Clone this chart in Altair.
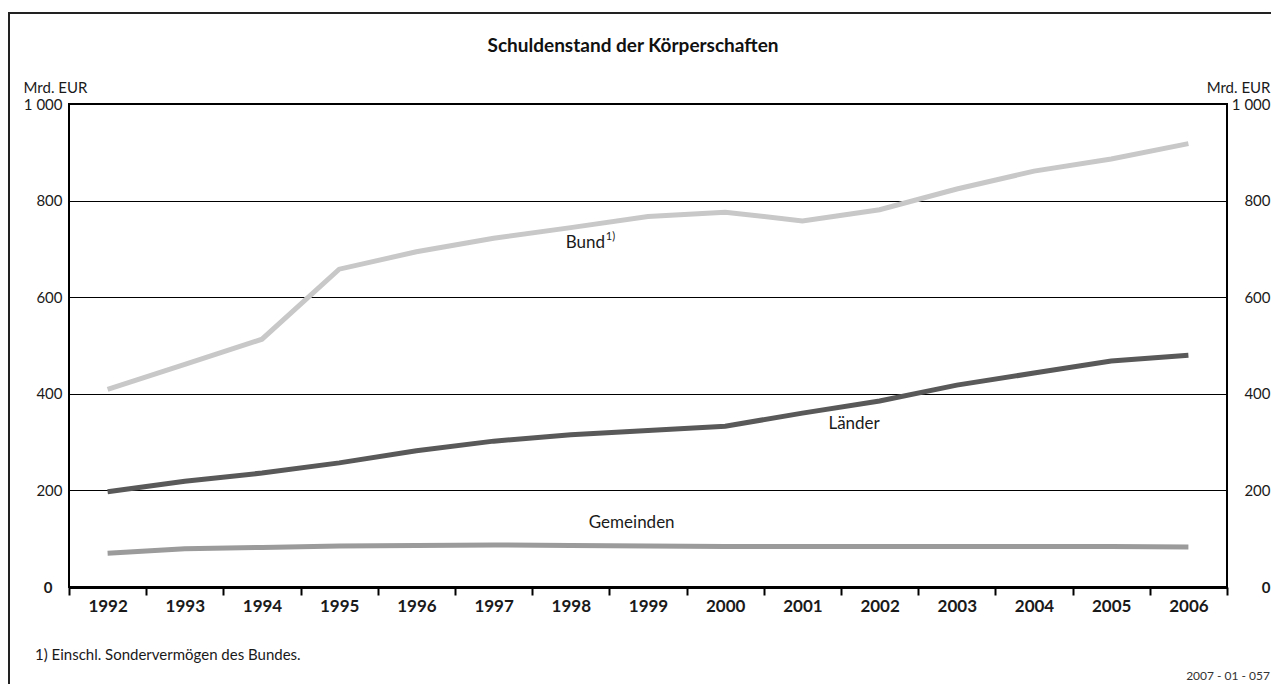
import altair as alt
import pandas as pd

# ---- data ----
years = list(range(1992, 2007))
bund = [409, 461, 513, 658, 694, 722, 744, 767, 776, 758, 781, 824, 861, 886, 918]
laender = [197, 219, 236, 257, 282, 302, 315, 324, 333, 360, 385, 418, 443, 468, 480]
gemeinden = [70, 79, 82, 85, 86, 87, 86, 85, 84, 84, 84, 84, 84, 84, 83]
series_names = ["Bund", "Länder", "Gemeinden"]
series_colors = ["#c8c8c8", "#595959", "#9b9b9b"]
y_ticks = [0, 200, 400, 600, 800, 1000]
x_tick_positions = [y - 0.5 for y in years] + [years[-1] + 0.5]

title_text = "Schuldenstand der Körperschaften"
unit_text = "Mrd. EUR"
footnote_text = "1) Einschl. Sondervermögen des Bundes."
code_text = "2007 - 01 - 057"

FONT = "Lato"
W, H = 1158, 483
PAD_L, PAD_T, PAD_R, PAD_B = 61, 96, 44, 97  # total width 1263, height 676

rows = []
for name, vals in zip(series_names, [bund, laender, gemeinden]):
    for yr, v in zip(years, vals):
        rows.append({"year": yr, "value": v, "series": name})
df = pd.DataFrame(rows)

x_scale = alt.Scale(domain=[1991.5, 2006.5], nice=False, zero=False)
y_scale = alt.Scale(domain=[0, 1000], nice=False, zero=True)

x_axis = alt.Axis(
    values=x_tick_positions,
    labelExpr="datum.value < 2006 ? format(datum.value + 0.5, 'd') : ''",
    labelOffset=W / 15 / 2,
    labelFlush=False,
    labelOverlap=False,
    labelBound=False,
    labelFontWeight="bold",
    labelFontSize=17,
    labelPadding=3,
    domainColor="black",
    domainWidth=3,
    tickColor="black",
    tickWidth=2,
    tickSize=8,
    grid=False,
    title=None,
)

left_axis = alt.Axis(
    orient="left",
    values=y_ticks,
    labelExpr="replace(format(datum.value, ','), ',', ' ')",
    labelFontSize=15,
    labelFontWeight={"condition": {"test": "datum.value == 0", "value": "bold"}, "value": "normal"},
    labelPadding={"condition": {"test": "datum.value == 0", "value": 17}, "value": 7},
    ticks=False,
    domain=False,
    grid=True,
    gridColor="black",
    gridWidth=1,
    gridOpacity=1,
    title=unit_text,
    titleAngle=0,
    titleAlign="left",
    titleBaseline="middle",
    titleX=-46,
    titleY=-17,
    titleFontSize=15,
    titleFontWeight="normal",
)

right_axis = alt.Axis(
    orient="right",
    values=y_ticks,
    labelExpr="replace(format(datum.value, ','), ',', ' ')",
    labelFontSize=15,
    labelAlign="right",
    labelFontWeight={"condition": {"test": "datum.value == 0", "value": "bold"}, "value": "normal"},
    labelPadding=43,
    ticks=False,
    domain=False,
    grid=False,
    title=unit_text,
    titleAngle=0,
    titleAlign="right",
    titleBaseline="middle",
    titleX=43,
    titleY=-17,
    titleFontSize=15,
    titleFontWeight="normal",
)

lines = alt.Chart(df).mark_line(strokeWidth=5, strokeCap="butt").encode(
    x=alt.X("year:Q", scale=x_scale, axis=x_axis),
    y=alt.Y("value:Q", scale=y_scale, axis=left_axis),
    color=alt.Color("series:N", scale=alt.Scale(domain=series_names, range=series_colors), legend=None),
    detail="series:N",
)

right = alt.Chart(df).mark_line(opacity=0).encode(
    x=alt.X("year:Q", scale=x_scale, axis=None),
    y=alt.Y("value:Q", scale=y_scale, axis=right_axis),
    detail="series:N",
)

labels = pd.DataFrame([
    {"year": 1998, "value": 713, "text": "Bund"},
    {"year": 1998, "value": 725, "text": "1)"},
    {"year": 2001, "value": 337, "text": "Länder"},
    {"year": 1998, "value": 132, "text": "Gemeinden"},
])


def label_layer(txt, dx, size):
    return alt.Chart(labels[labels["text"] == txt]).mark_text(
        align="left", baseline="middle", dx=dx, fontSize=size, font=FONT, color="#1a1a1a"
    ).encode(
        x=alt.X("year:Q", scale=x_scale, axis=None),
        y=alt.Y("value:Q", scale=y_scale, axis=None),
        text="text:N",
    )


one = pd.DataFrame({"k": [1]})
right_edge = W + PAD_R  # local x of the svg's right edge

frame_left = alt.Chart(one).mark_rule(color="#222", strokeWidth=2).encode(
    x=alt.value(-60), y=alt.value(-91), y2=alt.value(H + PAD_B)
)
frame_top = alt.Chart(one).mark_rule(color="#222", strokeWidth=2).encode(
    x=alt.value(-61), x2=alt.value(right_edge), y=alt.value(-91)
)
title = alt.Chart(one).mark_text(
    text=title_text, font=FONT, fontSize=19, fontWeight="bold", align="center", baseline="middle", color="#111"
).encode(x=alt.value(564), y=alt.value(-58))
footnote = alt.Chart(one).mark_text(
    text=footnote_text, font=FONT, fontSize=15, align="left", baseline="middle", color="#1a1a1a"
).encode(x=alt.value(-34), y=alt.value(551))
code = alt.Chart(one).mark_text(
    text=code_text, font=FONT, fontSize=12, align="right", baseline="bottom", color="#333"
).encode(x=alt.value(right_edge - 1), y=alt.value(H + PAD_B - 1))

chart = alt.layer(
    lines,
    right,
    label_layer("Bund", -5, 17),
    label_layer("1)", 35, 11),
    label_layer("Länder", 26, 17),
    label_layer("Gemeinden", 18, 17),
    frame_left,
    frame_top,
    title,
    footnote,
    code,
).resolve_axis(x="independent", y="independent").properties(
    width=W,
    height=H,
    autosize=alt.AutoSizeParams(type="none"),
    padding={"left": PAD_L, "top": PAD_T, "right": PAD_R, "bottom": PAD_B},
    background="white",
).configure_view(
    stroke="black", strokeWidth=2
).configure_axis(
    labelFont=FONT, titleFont=FONT, labelColor="#1a1a1a", titleColor="#1a1a1a"
)

chart.save("out.html", embed_options={"renderer": "svg", "actions": False})
